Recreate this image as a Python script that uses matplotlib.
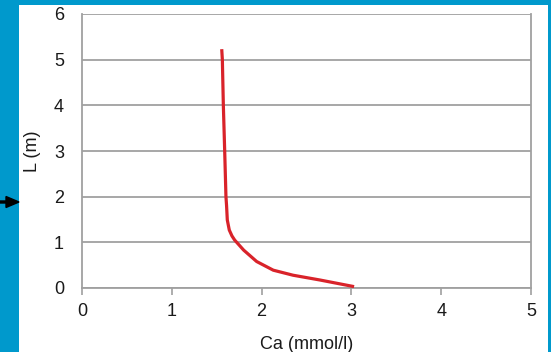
import matplotlib
matplotlib.use("Agg")
import matplotlib.pyplot as plt
from matplotlib.patches import Rectangle, FancyArrow

plt.rcParams['font.family'] = ['Liberation Sans', 'DejaVu Sans']

# Data
ca = [1.556, 1.563, 1.574, 1.589, 1.603, 1.610, 1.618, 1.640, 1.670, 1.700, 1.800, 1.945, 2.130, 2.350, 2.650, 3.030]
depth = [5.23, 5.00, 4.00, 3.00, 2.00, 1.80, 1.49, 1.27, 1.14, 1.05, 0.83, 0.58, 0.39, 0.28, 0.175, 0.03]
x_ticks = [0, 1, 2, 3, 4, 5]
y_ticks = [0, 1, 2, 3, 4, 5, 6]

W, H = 551, 352
fig = plt.figure(figsize=(W / 100, H / 100), dpi=100)
fig.patch.set_facecolor('white')

blue = '#0099cc'
# blue frame bands
fig.patches.append(Rectangle((0, 0), 19 / W, 1, transform=fig.transFigure, facecolor=blue, edgecolor='none', zorder=0))
fig.patches.append(Rectangle((0, 1 - 5 / H), 1, 5 / H, transform=fig.transFigure, facecolor=blue, edgecolor='none', zorder=0))
fig.patches.append(Rectangle((548 / W, 0), 3 / W, 1, transform=fig.transFigure, facecolor=blue, edgecolor='none', zorder=0))
# black arrow on the left
fig.patches.append(FancyArrow(0, 1 - 202 / H, 19 / W, 0, width=2 / H, head_width=11 / H,
                              head_length=13 / W, length_includes_head=True,
                              transform=fig.transFigure, color='black', zorder=3))

ax = fig.add_axes([82 / W, (H - 288) / H, (531 - 82) / W, (288 - 14) / H])
ax.set_xlim(0, 5)
ax.set_ylim(0, 6)
ax.set_xticks(x_ticks)
ax.set_yticks(y_ticks)

grey = '#a0a0a0'
ax.grid(axis='y', color=grey, linewidth=1.3)
ax.set_axisbelow(True)
for s in ['left', 'bottom', 'right']:
    ax.spines[s].set_color(grey)
    ax.spines[s].set_linewidth(1.3)
ax.spines['top'].set_visible(False)

ax.tick_params(axis='x', direction='out', length=5, width=1.2, color=grey, pad=6,
               labelsize=13, labelcolor='#1a1a1a')
ax.tick_params(axis='y', length=0, pad=13, labelsize=13, labelcolor='#1a1a1a')

ax.plot(ca, depth, color='#d9232a', linewidth=2.3, solid_capstyle='butt', zorder=3)

ax.set_xlabel('Ca (mmol/l)', fontsize=13, color='#1a1a1a', labelpad=11)
ax.set_ylabel('L (m)', fontsize=13, color='#1a1a1a', labelpad=9)

fig.savefig('out.png', dpi=100)
